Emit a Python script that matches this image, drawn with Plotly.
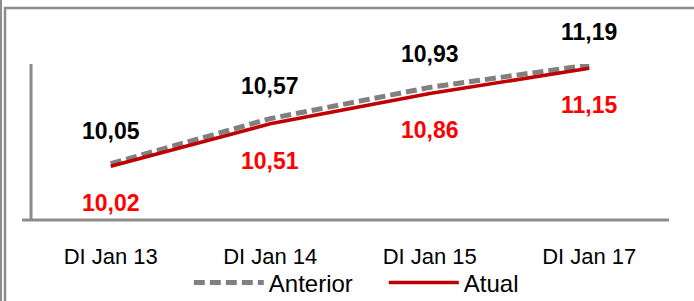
import plotly.graph_objects as go

categories = ["DI Jan 13", "DI Jan 14", "DI Jan 15", "DI Jan 17"]
anterior = [10.05, 10.57, 10.93, 11.19]
atual = [10.02, 10.51, 10.86, 11.15]
anterior_labels = ["10,05", "10,57", "10,93", "11,19"]
atual_labels = ["10,02", "10,51", "10,86", "11,15"]

W, H = 694, 301
L, R, T, B = 31, 25, 64, 81
pw, ph = W - L - R, H - T - B

def px(x):
    return (x - L) / pw

def py(y):
    return (H - B - y) / ph

FONT = "Liberation Sans, Arial, sans-serif"

fig = go.Figure()
fig.add_trace(go.Scatter(
    x=categories, y=anterior, name="Anterior", mode="lines",
    line=dict(color="#808080", width=5, dash="11px,5px"),
))
fig.add_trace(go.Scatter(
    x=categories, y=atual, name="Atual", mode="lines",
    line=dict(color="#C00000", width=3.5),
))

annotations = []
for c, v, t in zip(categories, anterior, anterior_labels):
    annotations.append(dict(x=c, y=v, text=t, showarrow=False, yshift=33,
                            font=dict(family=FONT, size=23, color="#000000", weight="bold")))
for c, v, t in zip(categories, atual, atual_labels):
    annotations.append(dict(x=c, y=v, text=t, showarrow=False, yshift=-37,
                            font=dict(family=FONT, size=23, color="#FF0000", weight="bold")))

FRAME = "#8c8c8c"
shapes = [
    # outer frame
    dict(type="line", xref="paper", yref="paper", x0=px(1), x1=px(1), y0=py(0), y1=py(301),
         line=dict(color=FRAME, width=2)),
    dict(type="line", xref="paper", yref="paper", x0=px(5), x1=px(5), y0=py(7), y1=py(301),
         line=dict(color=FRAME, width=2.5)),
    dict(type="line", xref="paper", yref="paper", x0=px(4), x1=px(694), y0=py(8), y1=py(8),
         line=dict(color=FRAME, width=2.5)),
    # axes
    dict(type="line", xref="paper", yref="paper", x0=px(31), x1=px(31), y0=py(64), y1=py(220),
         line=dict(color=FRAME, width=3)),
    dict(type="line", xref="paper", yref="paper", x0=px(22), x1=px(669), y0=py(220), y1=py(220),
         line=dict(color=FRAME, width=3)),
]

fig.update_layout(
    width=W, height=H,
    margin=dict(l=L, r=R, t=T, b=B, autoexpand=False),
    paper_bgcolor="white", plot_bgcolor="white",
    font=dict(family=FONT, size=22, color="#000000"),
    showlegend=True,
    legend=dict(orientation="h", x=0.553, xanchor="center", y=py(283), yanchor="middle",
                itemwidth=70, entrywidth=110, font=dict(size=24), bgcolor="rgba(0,0,0,0)"),
    xaxis=dict(type="category", range=[-0.5, 3.5], showline=False, showgrid=False, zeroline=False,
               ticks="", ticklabelstandoff=21, tickfont=dict(size=22, color="#000000")),
    yaxis=dict(range=[9.4, 11.2], visible=False, showgrid=False, zeroline=False),
    annotations=annotations,
    shapes=shapes,
)

fig.write_html("out.html", config={"displayModeBar": False},
               post_script="document.body.style.margin='0';document.body.style.overflow='hidden';")
